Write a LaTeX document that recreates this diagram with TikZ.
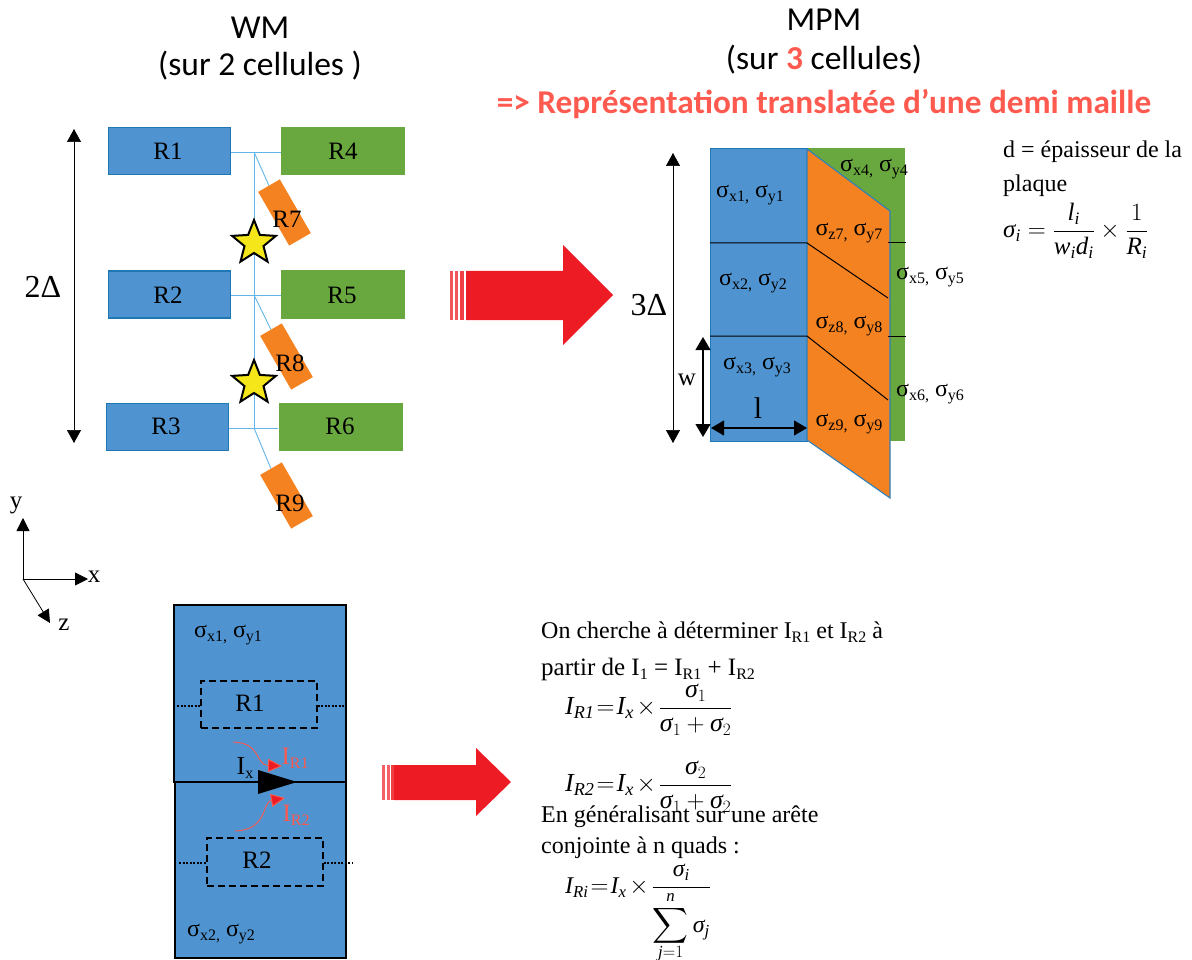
\documentclass[tikz,border=0pt]{standalone}
\usepackage{amsmath}
\usepackage{fontspec}
\setmainfont{Liberation Serif}
\newfontfamily\ttl{Carlito}
\usetikzlibrary{arrows.meta,shapes.geometric}
\definecolor{bl}{HTML}{4F94D0}
\definecolor{blb}{HTML}{1F77B4}
\definecolor{gr}{HTML}{69A83F}
\definecolor{orng}{HTML}{F58220}
\definecolor{rd}{HTML}{ED1C24}
\definecolor{rt}{HTML}{FF5A4F}
\definecolor{wire}{HTML}{62B5E8}
\definecolor{stary}{HTML}{F5E61A}
\newcommand\fs[1]{\fontsize{#1}{#1}\selectfont}
\newcommand\lw[1]{\lower.35ex\hbox{\fs{16}#1}}
\newcommand\sg[2]{σ\lw{#1,} σ\lw{#2}}
\newcommand\mi[1]{\text{\itshape #1}}
\newcommand\sgm{\mi{σ}}
\newcommand\tight{\thickmuskip=1.5mu\medmuskip=4mu}
\newcommand\tm{\mskip-2mu\times\mskip-2mu}
\tikzset{
 x=1pt,y=-1pt,
 lab/.style={inner sep=0,font=\fs{25}},
 sig/.style={inner sep=0,font=\fs{24}},
 txt/.style={inner sep=0,anchor=west,font=\fs{24}},
 eq/.style={inner sep=0,anchor=west,font=\fs{26}},
 ttlb/.style={inner sep=0,font=\ttl\fs{33.5}},
 bluebox/.style={fill=bl,draw=blb,line width=1.2pt,minimum width=122pt,minimum height=47pt,inner sep=0},
 greenbox/.style={fill=gr,minimum width=124pt,minimum height=48pt,inner sep=0},
 orgbox/.style={fill=orng,rotate=-60,minimum width=62pt,minimum height=25pt,inner sep=0},
 wirel/.style={wire,line width=.9pt},
 dim/.style={black,line width=.7pt,{Triangle[length=13pt,width=14pt]}-{Triangle[length=13pt,width=14pt]}},
 dimb/.style={black,line width=1.1pt,{Triangle[length=13pt,width=15pt]}-{Triangle[length=13pt,width=15pt]}},
 starn/.style={star,star points=5,star point ratio=2.3,draw=black,fill=stary,line width=2pt,minimum size=46pt,inner sep=0},
 dashb/.style={draw=black,line width=1.2pt,dash pattern=on 7pt off 4pt},
 dots/.style={black,line width=1.2pt,dash pattern=on 2pt off 1.5pt},
 redc/.style={rt,line width=.9pt,-{Triangle[length=14pt,width=13pt,fill=rd]}},
}
\begin{document}
\begin{tikzpicture}
\useasboundingbox (0,0) rectangle (1192,960);
% titles
\node[ttlb] (t1) at (260,28) {WM};
\node[ttlb] (t2) at (260,66) {(sur 2 cellules )};
\node[ttlb] (t3) at (824,20) {MPM};
\node[ttlb] (t4) at (824,60) {(sur {\bfseries\color{rt}3} cellules)};
\node[ttlb,text=rt,font=\ttl\bfseries\fs{33.3}] (t5) at (824,104) {=> Représentation translatée d’une demi maille};
% wires
\coordinate (j1) at (254,152);
\coordinate (j2) at (254,295);
\coordinate (j3) at (254,428);
\node[bluebox] (r1) at (169.5,151) {};
\node[bluebox] (r2) at (169.5,294.5) {};
\node[bluebox] (r3) at (167.5,427) {};
\node[greenbox] (r4) at (343,151) {};
\node[greenbox] (r5) at (343,294.5) {};
\node[greenbox] (r6) at (340.5,427) {};
\node[orgbox] (r7) at (284.5,212.5) {};
\node[orgbox] (r8) at (286.5,356.5) {};
\node[orgbox] (r9) at (286.5,495.5) {};
\draw[wirel] (j1) -- (j3);
\draw[wirel] (r1.east |- j1) -- (r4.west |- j1);
\draw[wirel] (r2.east |- j2) -- (r5.west |- j2);
\draw[wirel] (r3.east |- j3) -- (r6.west |- j3);
\draw[wirel] (j1) -- (r7.west);
\draw[wirel] (j2) -- (r8.west);
\draw[wirel] (j3) -- (r9.west);
\node[starn] (s1) at (254,243) {};
\node[starn] (s2) at (254,383) {};
\node[lab] (l1) at (168,151) {R1};
\node[lab] (l2) at (168,295) {R2};
\node[lab] (l3) at (166,426) {R3};
\node[lab] (l4) at (343,151) {R4};
\node[lab] (l5) at (342,295) {R5};
\node[lab] (l6) at (340,426) {R6};
\node[lab] (l7) at (287,219) {R7};
\node[lab] (l8) at (290,363) {R8};
\node[lab] (l9) at (290,503) {R9};
% 2 delta
\coordinate (d1) at (74,129);
\coordinate (d2) at (74,443);
\draw[dim] (d1) -- (d2);
\node[inner sep=0,font=\fs{32}] (dl) at (43,287) {2Δ};
% axes
\coordinate (o) at (23,579);
\coordinate (ay) at (23,518);
\coordinate (ax) at (88,579);
\coordinate (az) at (50,623);
\draw[black,line width=.8pt,-{Triangle[length=13pt,width=13pt]}] (o) -- (ay);
\draw[black,line width=.8pt,-{Triangle[length=13pt,width=13pt]}] (o) -- (ax);
\draw[black,line width=.8pt,-{Triangle[length=13pt,width=13pt]}] (o) -- (az);
\node[lab] (ly) at (16,505) {y};
\node[lab] (lx) at (94,577) {x};
\node[lab] (lz) at (64,625) {z};
% big arrow 1
\fill[rd] (466,271) -- (563,271) -- (563,245) -- (613,295) -- (563,345) -- (563,320) -- (466,320) -- cycle;
\fill[rd!75] (450,271) rectangle (453,320);
\fill[rd!75] (455,271) rectangle (458,320);
\fill[rd!85] (460,271) rectangle (464,320);
% MPM
\fill[gr,draw=gr,line width=1pt] (807,149) rectangle (904,440);
\fill[bl,draw=blb,line width=1pt] (710,149) rectangle (807,441);
\fill[orng] (807,149) -- (890,211) -- (890,498) -- (807,440) -- cycle;
\draw[blb!70!bl,line width=1.1pt] (807,149) -- (890,211) -- (890,498) -- (807,440) -- cycle;
\draw[black,line width=1pt] (710,243) -- (807,243) -- (888,298);
\draw[black,line width=1pt] (710,336) -- (807,336) -- (888,400);
\draw[black,line width=1pt] (888,243) -- (906,243);
\draw[black,line width=1pt] (888,336) -- (906,336);
\node[sig] (m1) at (750,195) {\sg{x1}{y1}};
\node[sig] (m2) at (753,283) {\sg{x2}{y2}};
\node[sig] (m3) at (757,367) {\sg{x3}{y3}};
\node[sig] (m4) at (874,169) {\sg{x4}{y4}};
\node[sig] (m5) at (930,277) {\sg{x5}{y5}};
\node[sig] (m6) at (930,394) {\sg{x6}{y6}};
\node[sig] (m7) at (849,233) {\sg{z7}{y7}};
\node[sig] (m8) at (849,326) {\sg{z8}{y8}};
\node[sig] (m9) at (849,424) {\sg{z9}{y9}};
\coordinate (d3) at (673,153);
\coordinate (d4) at (673,443);
\draw[dim] (d3) -- (d4);
\node[inner sep=0,font=\fs{32}] (dl3) at (649,305) {3Δ};
\coordinate (w1) at (703,337);
\coordinate (w2) at (703,437);
\draw[dimb] (w1) -- (w2);
\node[lab] (lw) at (687,380) {w};
\coordinate (l1a) at (711,428);
\coordinate (l1b) at (807,428);
\draw[dimb] (l1a) -- (l1b);
\node[inner sep=0,font=\fs{30}] (ll) at (758,408) {l};
\node[txt] (d) at (1003,152) {d = épaisseur de la};
\node[txt] (pl) at (1003,186) {plaque};
\node[eq,font=\fs{25}] (fs) at (1003,231) {$\thickmuskip=5mu\sgm_{\mi{i}}=\dfrac{\mi{l}_{\mi{i}}}{\mi{w}_{\mi{i}}\mi{d}_{\mi{i}}}\times\dfrac{1}{\mi{R}_{\mi{i}}}$};
% bottom cell
\fill[bl,draw=black,line width=1.8pt] (174,605) rectangle (346,782);
\fill[bl,draw=black,line width=1.8pt] (175,782) rectangle (346,958);
\node[sig] (b1) at (228,635) {\sg{x1}{y1}};
\node[sig] (b2) at (221,934) {\sg{x2}{y2}};
\node[dashb,minimum width=116pt,minimum height=47pt,inner sep=0] (dr1) at (259,704.5) {};
\node[dashb,minimum width=116pt,minimum height=48pt,inner sep=0] (dr2) at (265,862) {};
\coordinate (c1l) at (177,706);
\coordinate (c1r) at (345,706);
\coordinate (c2l) at (179,863);
\coordinate (c2r) at (352,863);
\draw[dots] (c1l) -- (dr1.west |- c1l);
\draw[dots] (dr1.east |- c1r) -- (c1r);
\draw[dots] (c2l) -- (dr2.west |- c2l);
\draw[dots] (dr2.east |- c2r) -- (c2r);
\node[lab] (rr1) at (250,703) {R1};
\node[lab] (rr2) at (257,860) {R2};
\node[inner sep=0,font=\fs{26}] (ix) at (245,768) {I\lw{x}};
\fill[black] (258,770) -- (297,782) -- (258,794) -- cycle;
\node[inner sep=0,text=rt,font=\fs{25}] (ir1) at (295,758) {I\lw{R1}};
\node[inner sep=0,text=rt,font=\fs{25}] (ir2) at (296,815) {I\lw{R2}};
\coordinate (ca) at (233,742);
\coordinate (cb) at (282,766);
\coordinate (cc) at (235,831);
\coordinate (cd) at (285,798);
\draw[redc] (ca) .. controls (262,743) and (255,765) .. (cb);
\draw[redc] (cc) .. controls (268,830) and (262,802) .. (cd);
% big arrow 2
\fill[rd] (394,765) -- (476,765) -- (476,748) -- (511,782) -- (476,816) -- (476,800) -- (394,800) -- cycle;
\fill[rd!70] (382,765) rectangle (385,800);
\fill[rd!70] (387,765) rectangle (390,800);
\fill[rd!85] (391,765) rectangle (394,800);
% right text
\node[txt] (a1) at (541,632) {On cherche à déterminer I\lw{R1} et I\lw{R2} à};
\node[txt] (a2) at (541,669) {\fs{25}partir de I\lw{1} = I\lw{R1} + I\lw{R2}};
\node[eq] (e1) at (565,710) {$\tight\mi{I}_{\mi{R1}}=\mi{I}_{\mi{x}}\tm\dfrac{\sgm_1}{\sgm_1+\sgm_2}$};
\node[eq] (e2) at (565,787) {$\tight\mi{I}_{\mi{R2}}=\mi{I}_{\mi{x}}\tm\dfrac{\sgm_2}{\sgm_1+\sgm_2}$};
\node[txt] (a3) at (541,817) {En généralisant sur une arête};
\node[txt] (a4) at (541,848) {conjointe à n quads :};
\node[eq,font=\fs{24}] (e3) at (565,914) {$\tight\mi{I}_{\mi{Ri}}=\mi{I}_{\mi{x}}\tm\dfrac{\sgm_{\mi{i}}}{\displaystyle\sum_{\smash{\raisebox{4pt}{$\scriptstyle\mi{j}=1$}}}^{\mi{n}}\sgm_{\mi{j}}}$};
\end{tikzpicture}
\end{document}
